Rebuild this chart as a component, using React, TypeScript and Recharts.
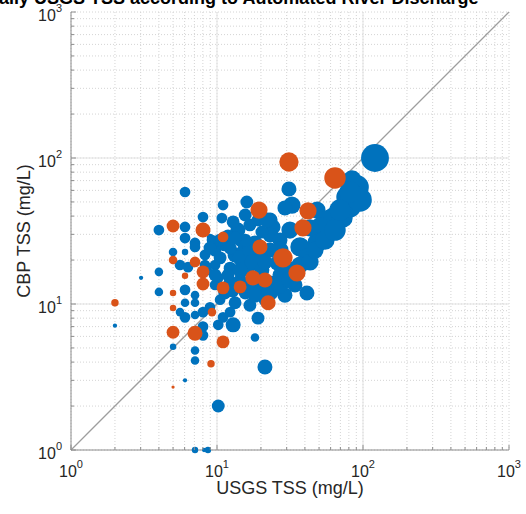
import React from 'react';
import { ScatterChart, Scatter, XAxis, YAxis, ZAxis, CartesianGrid, ReferenceLine } from 'recharts';

// [USGS TSS, CBP TSS, marker weight]
const blueSamples: [number, number, number][] = [
  [120.8, 100, 169], [91, 63.3, 121], [77.7, 54, 100], [81.5, 46.2, 100], [73, 38.8, 81],
  [62.3, 39.4, 81], [84.1, 70.7, 81], [31.1, 61.3, 49], [32.6, 47.6, 64], [29.2, 45.5, 49],
  [48.4, 44.0, 64], [56.7, 37.6, 81], [50.7, 33.7, 81], [23.1, 37.6, 49], [24.2, 33.7, 49],
  [23.1, 29.7, 49], [37.0, 24.6, 81], [48.4, 26.2, 81], [41.3, 21.0, 64], [25.8, 19.1, 49],
  [23.1, 13.9, 49], [41.3, 11.9, 49], [6.04, 58.5, 25], [11.0, 47.6, 25], [16.0, 50.0, 36],
  [8.02, 39.4, 25], [6.04, 33.7, 25], [10.8, 38.8, 25], [13.9, 32.1, 49], [6.04, 28.3, 25],
  [8.95, 28.8, 9], [7.07, 26.2, 25], [5.0, 22.7, 16], [4.0, 32.1, 25], [6.04, 22.7, 9],
  [5.58, 18.5, 25], [6.33, 17.9, 25], [4.0, 16.6, 16], [3.02, 15.1, 4], [4.0, 12.1, 16],
  [5.07, 11.9, 4], [6.04, 12.5, 25], [6.04, 10.2, 16], [7.07, 11.5, 16], [7.07, 10.2, 16],
  [5.58, 8.8, 16], [6.04, 8.1, 25], [7.07, 8.4, 16], [8.02, 8.8, 25], [2.0, 7.1, 4],
  [8.02, 7.0, 25], [5.0, 5.1, 9], [7.07, 4.8, 16], [7.07, 4.1, 16], [6.04, 3.0, 4],
  [10.2, 7.2, 25], [12.9, 7.2, 49], [8.02, 6.1, 25], [18.2, 5.9, 16], [21.3, 3.7, 49],
  [10.2, 2.0, 36], [7.07, 1, 9], [8.15, 1, 4], [8.67, 1, 9], [8.95, 9.5, 25],
  [11.0, 8.1, 25], [9.7, 23.4, 36], [11.3, 25.4, 36], [13.3, 21.7, 49], [15.6, 24.2, 49],
  [18.2, 26.2, 49], [19.7, 21.7, 49], [16.8, 18.5, 49], [12.3, 17.6, 36], [9.7, 18.5, 25],
  [8.27, 21.7, 25], [14.4, 14.6, 36], [19.7, 12.5, 49], [15.6, 11.9, 36], [11.3, 11.9, 36],
  [9.7, 13.5, 25], [27.0, 15.8, 49], [31.6, 17.1, 64], [34.2, 13.5, 49], [29.2, 11.5, 49],
  [21.3, 10.7, 36], [16.8, 9.8, 36], [13.3, 10.2, 36], [10.5, 10.7, 25], [19.1, 8.0, 36],
  [12.3, 8.8, 25], [9.24, 27.4, 25], [11.9, 29.3, 36], [20.3, 31.1, 36], [16.8, 34.8, 36],
  [19.1, 37.6, 36], [7.07, 24.6, 25], [22.0, 37.6, 49], [27.0, 27.4, 49], [14.4, 27.4, 36],
  [23.1, 23.4, 49], [12.3, 14.2, 36], [8.5, 17.1, 25], [10.2, 15.1, 25], [15.6, 17.1, 36],
  [8.95, 24.2, 36], [10.5, 20.7, 36], [12.3, 24.2, 36], [14.4, 20.7, 49], [16.8, 23.4, 49],
  [8.27, 18.5, 25], [9.7, 15.8, 36], [11.9, 15.8, 36], [14.4, 17.1, 49], [17.4, 19.4, 49],
  [20.3, 17.1, 49], [12.7, 12.5, 49], [16.3, 13.5, 49], [18.2, 11.5, 49], [23.1, 12.1, 64],
  [27.0, 13.5, 64], [31.6, 14.6, 64], [37.0, 18.5, 64], [43.4, 19.4, 64], [46.9, 23.4, 64],
  [54.9, 27.4, 81], [64.3, 32.1, 100], [69.6, 44.0, 100], [95.4, 51.6, 121], [81.5, 58.5, 100],
  [43.4, 33.2, 64], [31.6, 32.1, 64], [27.0, 23.4, 64], [21.3, 19.4, 49], [15.6, 27.4, 36],
  [13.3, 28.3, 36], [10.5, 27.4, 36], [12.9, 36.5, 36], [15.6, 40.7, 36],
];

const orangeSamples: [number, number, number][] = [
  [31.1, 93.9, 81], [64.3, 73.0, 100], [19.4, 44.0, 64], [42.0, 43.4, 64], [38.8, 33.2, 64],
  [19.7, 24.6, 49], [28.3, 20.7, 81], [35.3, 16.3, 64], [21.3, 14.6, 49], [17.6, 15.1, 49],
  [5.0, 34.2, 36], [8.02, 32.1, 49], [11.0, 28.8, 25], [5.0, 20.0, 16], [7.07, 19.4, 25],
  [6.04, 15.6, 9], [8.02, 16.6, 36], [8.02, 13.7, 36], [11.0, 12.9, 36], [14.4, 13.1, 36],
  [22.4, 10.2, 49], [9.24, 8.8, 16], [5.0, 9.4, 9], [2.0, 10.2, 12], [5.0, 6.4, 36],
  [7.07, 6.3, 49], [11.0, 5.5, 36], [9.1, 3.9, 12], [5.0, 2.7, 2.25], [5.0, 11.9, 9],
];

const decadeTicks = [1, 10, 100, 1000];
const logTicks = [
  1, 2, 3, 4, 5, 6, 7, 8, 9,
  10, 20, 30, 40, 50, 60, 70, 80, 90,
  100, 200, 300, 400, 500, 600, 700, 800, 900,
  1000,
];
const majorGrid = [10, 100];

const TITLE = 'Daily USGS TSS according to Automated River Discharge';
const AXIS = '#8c8c8c';
const TEXT = '#262626';
const FONT = '"Liberation Sans", Arial, Helvetica, sans-serif';

const toPoints = (rows: [number, number, number][]) =>
  rows.map(([usgs, cbp, size]) => ({ usgs, cbp, size }));

const blueData = toPoints(blueSamples);
const orangeData = toPoints(orangeSamples);

const expOf = (v: number) => Math.round(Math.log10(v));

const XTick = (props: any) => {
  const { x, y, payload } = props;
  const major = decadeTicks.includes(payload.value);
  return (
    <g>
      <line x1={x} x2={x} y1={y} y2={y - (major ? 5 : 3)} stroke={AXIS} />
      {major && (
        <text x={x} y={y + 27} textAnchor="middle" fill={TEXT} fontSize={16} fontFamily={FONT}>
          10<tspan dy={-9} fontSize={11}>{expOf(payload.value)}</tspan>
        </text>
      )}
    </g>
  );
};

const YTick = (props: any) => {
  const { x, y, payload } = props;
  const major = decadeTicks.includes(payload.value);
  return (
    <g>
      <line x1={x} x2={x + (major ? 5 : 3)} y1={y} y2={y} stroke={AXIS} />
      {major && (
        <text x={x - 9} y={y + 9} textAnchor="end" fill={TEXT} fontSize={16} fontFamily={FONT}>
          10<tspan dy={-9} fontSize={11}>{expOf(payload.value)}</tspan>
        </text>
      )}
    </g>
  );
};

const XLabel = (props: any) => {
  const vb = props.viewBox;
  return (
    <text x={vb.x + vb.width / 2} y={vb.y + 44} textAnchor="middle" fill={TEXT} fontSize={18} fontFamily={FONT}>
      USGS TSS (mg/L)
    </text>
  );
};

const YLabel = (props: any) => {
  const vb = props.viewBox;
  const cx = vb.x + 20;
  const cy = vb.y + vb.height / 2;
  return (
    <text x={cx} y={cy} transform={`rotate(-90, ${cx}, ${cy})`} textAnchor="middle" fill={TEXT} fontSize={18} fontFamily={FONT}>
      CBP TSS (mg/L)
    </text>
  );
};

export default function App() {
  return (
    <div style={{ position: 'absolute', left: 0, top: 0, width: 526, height: 514, background: '#fff' }}>
      <ScatterChart width={526} height={514} margin={{ top: 12, right: 17, bottom: 20, left: 10 }}>
        <CartesianGrid stroke="#d4d4d4" strokeDasharray="1 2" />
        <CartesianGrid stroke="#e3e3e3" verticalValues={majorGrid} horizontalValues={majorGrid} />
        <XAxis
          type="number"
          dataKey="usgs"
          scale="log"
          domain={[1, 1000]}
          ticks={logTicks}
          interval={0}
          height={44}
          tickSize={0}
          tickMargin={0}
          tickLine={false}
          axisLine={{ stroke: AXIS }}
          tick={<XTick />}
          label={{ content: <XLabel /> }}
        />
        <YAxis
          type="number"
          dataKey="cbp"
          scale="log"
          domain={[1, 1000]}
          ticks={logTicks}
          interval={0}
          width={61}
          tickSize={0}
          tickMargin={0}
          tickLine={false}
          axisLine={{ stroke: AXIS }}
          tick={<YTick />}
          label={{ content: <YLabel /> }}
        />
        <ZAxis type="number" dataKey="size" domain={[0, 169]} range={[0, 169 * Math.PI * 1.15]} />
        <Scatter data={blueData} fill="#0072BD" isAnimationActive={false} />
        <Scatter data={orangeData} fill="#D95319" isAnimationActive={false} />
        <ReferenceLine
          segment={[{ x: 1, y: 1 }, { x: 1000, y: 1000 }]}
          stroke="#9e9e9e"
          strokeWidth={1.3}
        />
      </ScatterChart>
      <svg width={526} height={12} style={{ position: 'absolute', left: 0, top: 0 }}>
        <text x={-14} y={4} fill="#000" fontSize={18} fontWeight="bold" fontFamily={FONT}>
          {TITLE}
        </text>
      </svg>
    </div>
  );
}
